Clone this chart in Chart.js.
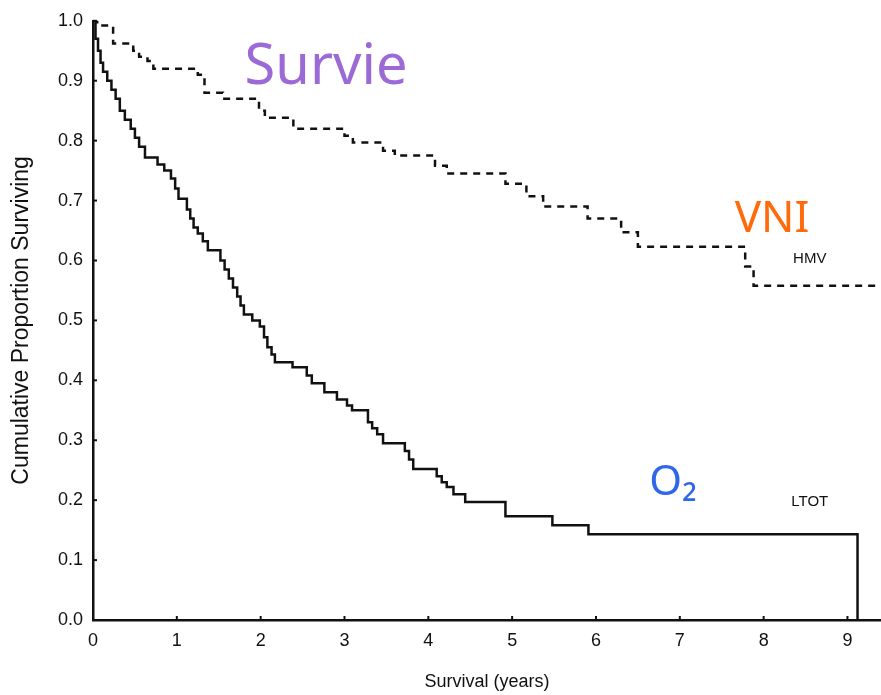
<!DOCTYPE html>
<html>
<head>
<meta charset="utf-8">
<script src="https://cdn.jsdelivr.net/npm/chart.js@4"></script>
<style>
  body { margin: 0; background: #fff; }
  canvas { display: block; }
</style>
</head>
<body>
<canvas id="km" width="881" height="695"></canvas>
<script>
/* Kaplan-Meier survival: home ventilation (HMV) vs long-term oxygen (LTOT) */
const hmvYears = [0, 0.05, 0.24, 0.48, 0.55, 0.65, 0.72, 1.25, 1.33, 1.55, 1.98, 2.05, 2.39, 3.0, 3.1,
  3.46, 3.6, 4.08, 4.22, 4.92, 5.17, 5.37, 5.9, 6.3, 6.5, 7.78, 7.88, 9.4];
const hmvSurv = [1.0, 0.992, 0.962, 0.95, 0.94, 0.933, 0.92, 0.91, 0.88, 0.87, 0.85, 0.838, 0.82, 0.808, 0.797,
  0.783, 0.775, 0.758, 0.745, 0.728, 0.707, 0.69, 0.67, 0.647, 0.623, 0.59, 0.558, 0.558];

const ltotYears = [0, 0.03, 0.06, 0.09, 0.12, 0.17, 0.22, 0.27, 0.32, 0.38, 0.45, 0.5, 0.55, 0.62, 0.77,
  0.85, 0.93, 0.98, 1.02, 1.12, 1.16, 1.2, 1.25, 1.31, 1.37, 1.52, 1.57, 1.62, 1.67, 1.72, 1.76, 1.8,
  1.9, 1.99, 2.04, 2.08, 2.13, 2.17, 2.38, 2.55, 2.61, 2.76, 2.91, 3.03, 3.09, 3.28, 3.33, 3.39, 3.46,
  3.72, 3.77, 3.82, 4.1, 4.16, 4.22, 4.3, 4.44, 4.92, 5.48, 5.91, 9.12];
const ltotSurv = [1.0, 0.97, 0.95, 0.93, 0.915, 0.9, 0.885, 0.87, 0.85, 0.835, 0.82, 0.805, 0.79, 0.772, 0.76,
  0.75, 0.737, 0.72, 0.703, 0.685, 0.67, 0.655, 0.645, 0.632, 0.617, 0.6, 0.585, 0.57, 0.555, 0.54, 0.525, 0.51,
  0.5, 0.49, 0.472, 0.455, 0.443, 0.43, 0.422, 0.408, 0.395, 0.38, 0.368, 0.358, 0.35, 0.33, 0.32, 0.31, 0.295,
  0.282, 0.268, 0.252, 0.24, 0.23, 0.222, 0.21, 0.197, 0.173, 0.158, 0.143, 0];

const xTicks = [0, 1, 2, 3, 4, 5, 6, 7, 8, 9];
const yTicks = [0, 0.1, 0.2, 0.3, 0.4, 0.5, 0.6, 0.7, 0.8, 0.9, 1.0];

const toPoints = (xs, ys) => xs.map((x, i) => ({ x: x, y: ys[i] }));

// labels placed in data units
const notes = [
  { text: "Survie", x: 2.78, y: 0.895, color: "#9B6AD6", font: "56px 'Noto Sans'" },
  { text: "VNI", x: 8.1, y: 0.647, color: "#FF6A0A", font: "44px 'Noto Sans'" },
  { text: "HMV", x: 8.55, y: 0.595, color: "#111", font: "15px 'Liberation Sans'" },
  { text: "O₂", x: 6.92, y: 0.208, color: "#2F66EA", font: "42px 'Noto Sans'" },
  { text: "LTOT", x: 8.55, y: 0.19, color: "#111", font: "15px 'Liberation Sans'" }
];

// small tick marks pointing into the plot, plus the text labels
const innerTicks = {
  id: "innerTicks",
  afterDraw(chart) {
    const ctx = chart.ctx;
    const xs = chart.scales.x, ys = chart.scales.y;
    const area = chart.chartArea;
    ctx.save();
    ctx.strokeStyle = "#111";
    ctx.lineWidth = 2;
    xTicks.forEach(v => {
      const px = xs.getPixelForValue(v);
      ctx.beginPath();
      ctx.moveTo(px, area.bottom);
      ctx.lineTo(px, area.bottom - 4);
      ctx.stroke();
    });
    yTicks.forEach(v => {
      const py = ys.getPixelForValue(v);
      ctx.beginPath();
      ctx.moveTo(area.left, py);
      ctx.lineTo(area.left + 4, py);
      ctx.stroke();
    });
    ctx.textAlign = "center";
    ctx.textBaseline = "alphabetic";
    notes.forEach(n => {
      ctx.font = n.font;
      ctx.fillStyle = n.color;
      ctx.fillText(n.text, xs.getPixelForValue(n.x), ys.getPixelForValue(n.y));
    });
    ctx.restore();
  }
};

const tickFont = { family: "'Liberation Sans', Arial", size: 18 };

new Chart(document.getElementById("km"), {
  type: "line",
  data: {
    datasets: [{
      label: "HMV",
      data: toPoints(hmvYears, hmvSurv),
      borderColor: "#111",
      borderWidth: 2.5,
      borderDash: [7, 6],
      stepped: true,
      pointRadius: 0,
      fill: false
    }, {
      label: "LTOT",
      data: toPoints(ltotYears, ltotSurv),
      borderColor: "#111",
      borderWidth: 2.5,
      stepped: true,
      pointRadius: 0,
      fill: false
    }]
  },
  options: {
    responsive: false,
    animation: false,
    layout: {
      padding: { top: 20, right: 0, left: 0, bottom: 0 }
    },
    scales: {
      x: {
        type: "linear",
        min: 0,
        max: 9.4,
        afterBuildTicks: scale => { scale.ticks = xTicks.map(v => ({ value: v })); },
        afterFit: scale => { scale.height = 75; },
        ticks: {
          padding: 10,
          color: "#111",
          font: tickFont,
          maxRotation: 0,
          callback: v => String(v)
        },
        grid: { display: false, drawTicks: false },
        border: { display: true, color: "#111", width: 2.5 },
        title: {
          display: true,
          text: "Survival (years)",
          color: "#111",
          padding: { top: 0, bottom: 2 },
          font: { family: "'Liberation Sans', Arial", size: 18 }
        }
      },
      y: {
        min: 0,
        max: 1.0,
        afterBuildTicks: scale => { scale.ticks = yTicks.map(v => ({ value: v })); },
        afterFit: scale => { scale.width = 93; },
        ticks: {
          padding: 10,
          color: "#111",
          font: tickFont,
          callback: v => v.toFixed(1)
        },
        grid: { display: false, drawTicks: false },
        border: { display: true, color: "#111", width: 2.5 },
        title: {
          display: true,
          text: "Cumulative Proportion Surviving",
          color: "#111",
          padding: { top: 8, bottom: 0 },
          font: { family: "'Liberation Sans', Arial", size: 23 }
        }
      }
    },
    plugins: {
      legend: { display: false },
      tooltip: { enabled: false }
    }
  },
  plugins: [innerTicks]
});
</script>
</body>
</html>
